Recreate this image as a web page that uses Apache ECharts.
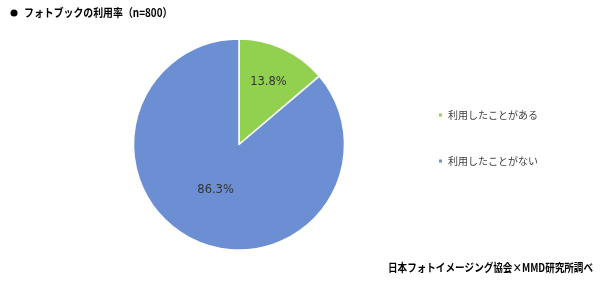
<!DOCTYPE html>
<html><head><meta charset="utf-8">
<script src="https://cdn.jsdelivr.net/npm/echarts@6/dist/echarts.min.js"></script>
<style>html,body{margin:0;padding:0;background:#fff}#c{width:600px;height:282px}</style>
</head><body><div id="c"></div>
<script>
const categories = ['利用したことがある', '利用したことがない'];
const values = [13.8, 86.3];
const colors = ['#92D050', '#6B8FD2'];
const titleText = 'フォトブックの利用率（n=800）';
const sourceText = '日本フォトイメージング協会×MMD研究所調べ';

const font = '"Noto Sans CJK JP", "Noto Sans", sans-serif';
const chart = echarts.init(document.getElementById('c'));
chart.setOption({
  animation: false,
  backgroundColor: '#fff',
  graphic: [
    { type: 'circle', shape: { cx: 14, cy: 13, r: 3.5 }, style: { fill: '#000' } },
    { type: 'text', x: 24, y: 13, scaleX: 0.86,
      style: { text: titleText, font: 'bold 11.5px ' + font, fill: '#000', align: 'left', verticalAlign: 'middle' } },
    { type: 'text', x: 593, y: 268, scaleX: 0.87,
      style: { text: sourceText, font: 'bold 11px ' + font, fill: '#000', align: 'right', verticalAlign: 'middle' } }
  ],
  legend: {
    orient: 'vertical', left: 437, top: 110, itemGap: 36, padding: 0,
    icon: 'rect', itemWidth: 5, itemHeight: 5,
    textStyle: { fontSize: 10, color: '#404040', fontFamily: font },
    data: categories
  },
  series: [{
    type: 'pie',
    center: [239, 144.5], radius: 105.5,
    startAngle: 90, clockwise: true,
    itemStyle: { borderColor: '#fff', borderWidth: 1.5 },
    label: { position: 'inside', formatter: p => p.value.toFixed(1) + '%', fontSize: 11.5, color: '#333', fontFamily: 'Verdana, "DejaVu Sans", sans-serif' },
    labelLayout: p => p.dataIndex === 0 ? { dx: 6, dy: -12 } : { dx: 0, dy: -5 },
    emphasis: { disabled: true },
    data: categories.map((c, i) => ({ name: c, value: values[i], itemStyle: { color: colors[i] } }))
  }]
});
</script></body></html>
